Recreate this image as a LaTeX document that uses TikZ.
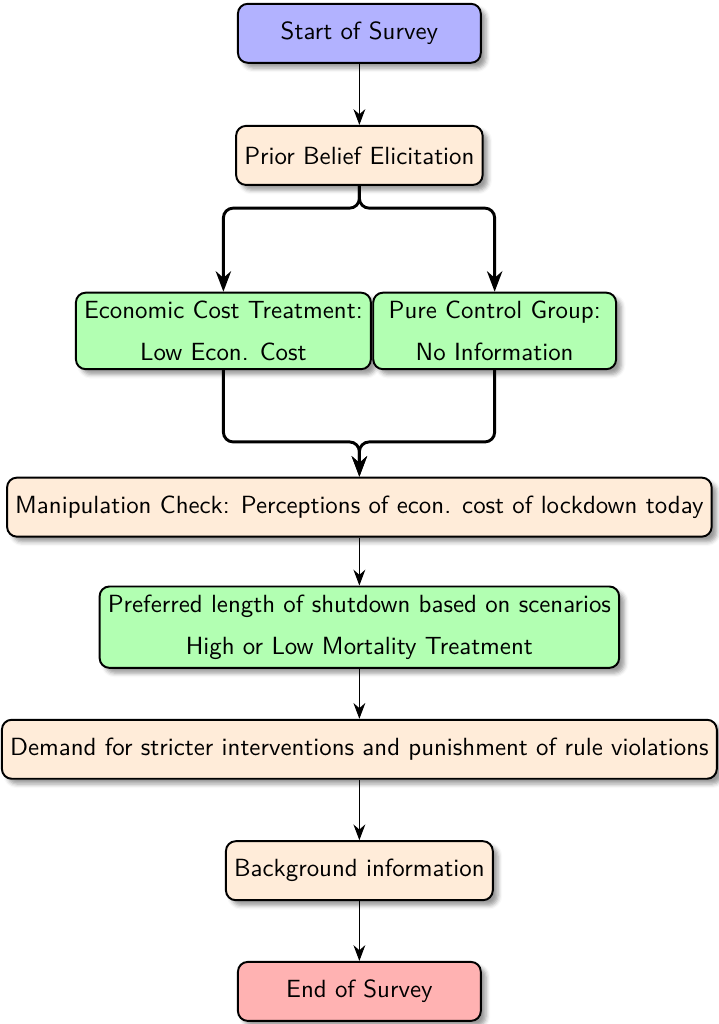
\documentclass[tikz,border=0pt]{standalone}
\usepackage{tikz}
\usetikzlibrary{shadows.blur,arrows.meta}
\tikzset{
	stepbox/.style={rectangle, rounded corners, draw=black, thick, blur shadow,
		minimum width=3.5cm, minimum height=0.85cm, align=center,
		font=\sffamily\fontsize{10.2pt}{12.4pt}\selectfont},
	startbox/.style={stepbox, fill=blue!30},
	infobox/.style={stepbox, fill=orange!15},
	treatbox/.style={stepbox, fill=green!30},
	endbox/.style={stepbox, fill=red!30},
	thinarrow/.style={-{Stealth[scale=1.35]}},
	bracearrow/.style={-{Stealth}, very thick, rounded corners}
}

\begin{document}
\begin{tikzpicture}
				\useasboundingbox (-5.18,0) rectangle (5.17,-14.76);
				
				\node[startbox] (start) at (0,-0.48) {Start of Survey};
				\node[infobox] (prior) at (0,-2.24) {Prior Belief Elicitation};
				\node[treatbox] (econ) at (-1.96,-4.77) {Economic Cost Treatment:\\[5pt] Low Econ. Cost};
				\node[treatbox] (pure) at (1.95,-4.77) {Pure Control Group:\\[5pt] No Information};
				\node[infobox] (manip) at (0,-7.31) {Manipulation Check: Perceptions of econ. cost of lockdown today};
				\node[treatbox] (pref) at (0,-9.04) {Preferred length of shutdown based on scenarios\\[5pt] High or Low Mortality Treatment};
				\node[infobox] (demand) at (0,-10.8) {Demand for stricter interventions and punishment of rule violations};
				\node[infobox] (backgr) at (0,-12.55) {Background information};
				\node[endbox] (end) at (0,-14.29) {End of Survey};
				
				\coordinate (split) at (0,-3.0);
				\coordinate (merge) at (0,-6.37);
				
				\draw[thinarrow] (start) -- (prior);
				\draw[bracearrow] (prior.south) -- (split) -- (split -| econ) -- (econ.north);
				\draw[bracearrow] (prior.south) -- (split) -- (split -| pure) -- (pure.north);
				\draw[bracearrow] (econ.south) -- (merge -| econ) -- (merge) -- (manip.north);
				\draw[bracearrow] (pure.south) -- (merge -| pure) -- (merge) -- (manip.north);
				\draw[thinarrow] (manip) -- (pref);
				\draw[thinarrow] (pref) -- (demand);
				\draw[thinarrow] (demand) -- (backgr);
				\draw[thinarrow] (backgr) -- (end);
			\end{tikzpicture}
\end{document}
